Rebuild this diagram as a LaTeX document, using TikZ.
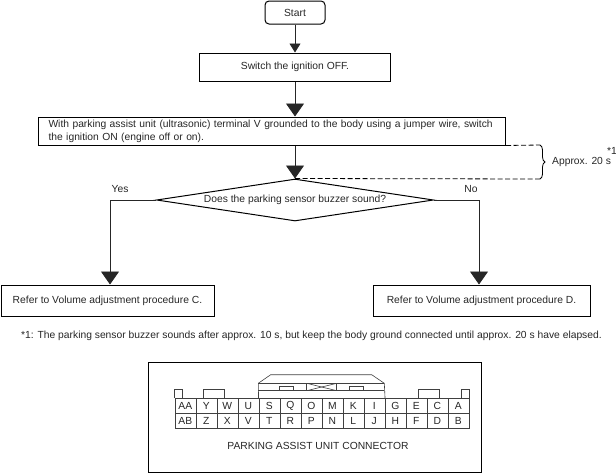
\documentclass[tikz,border=0pt]{standalone}
\usepackage{fontspec}
\setmainfont{Liberation Sans}
\usetikzlibrary{arrows.meta}
\usetikzlibrary{shapes.geometric}
\usetikzlibrary{decorations.pathreplacing}
\tikzstyle{txt}=[font=\fontsize{10.3}{12.8}\selectfont, text=black!85, inner sep=0]
\tikzstyle{stepbox}=[txt, rectangle, draw=black, line width=1pt]
\tikzstyle{flow}=[draw=black!85, line width=.85pt]
\tikzstyle{bighead}=[flow, -{Triangle[length=13pt, width=18pt]}]
\tikzstyle{smallhead}=[flow, -{Triangle[length=9pt, width=11pt]}]
\tikzstyle{pin}=[txt, rectangle, draw=black!75, line width=.5pt, minimum width=21pt, minimum height=15pt]
\tikzstyle{housing}=[draw=black!75, line width=.6pt]
\begin{document}
\begin{tikzpicture}[x=1pt, y=-1pt]
      \useasboundingbox (0,0) rectangle (616,474);

      \node[stepbox, rounded corners=4pt, minimum width=60pt, minimum height=23pt] (start) at (295,12.5) {Start};
      \node[stepbox, minimum width=191pt, minimum height=28pt] (ignoff) at (295,67) {Switch the ignition OFF.};
      \node[stepbox, minimum width=467pt, minimum height=28pt, text width=447pt, inner xsep=10pt, align=left] (ground) at (272,131)
          {With parking assist unit (ultrasonic) terminal V grounded to the body using a jumper wire, switch\\the ignition ON (engine off or on).};
      \node[txt, draw=black, line width=1pt, shape=diamond, aspect=6.6, minimum width=277pt, minimum height=42pt] (buzzer) at (295,200)
          {Does the parking sensor buzzer sound?};
      \node[stepbox, minimum width=213pt, minimum height=31pt] (procc) at (107.5,300.5) {Refer to Volume adjustment procedure C.};
      \node[stepbox, minimum width=217pt, minimum height=31pt] (procd) at (481.5,300.5) {Refer to Volume adjustment procedure D.};

      \draw[smallhead] (start) -- (ignoff);
      \draw[bighead] (ignoff) -- (ground.north -| ignoff);
      \draw[bighead] (ground.south -| buzzer) -- (buzzer);

      \coordinate (yesturn) at (110,200);
      \coordinate (noturn) at (479,200);
      \draw[bighead] (buzzer.west) -- (yesturn) -- (yesturn |- procc.north);
      \draw[bighead] (buzzer.east) -- (noturn) -- (noturn |- procd.north);
      \node[txt] (yes) at (120,189) {Yes};
      \node[txt] (no) at (471,189) {No};

      % time span beside the third step
      \coordinate (spantop) at (540,145);
      \coordinate (spanbot) at (540,179);
      \draw[line width=.8pt, dash pattern=on 5pt off 2.5pt] (ground.south east) -- (spantop);
      \draw[line width=.8pt, dash pattern=on 5pt off 2.5pt] (buzzer.north) -- (spanbot);
      \draw[line width=.8pt, decorate, decoration={brace, amplitude=5pt}] (spantop) -- (spanbot);
      \node[txt, anchor=west] (approx) at (552,161.5) {Approx. 20 s};
      \node[txt, anchor=west] (note) at (607,151) {*1};

      \node[txt, anchor=west] (footnote) at (21,336) {*1: The parking sensor buzzer sounds after approx. 10 s, but keep the body ground connected until approx. 20 s have elapsed.};

      \node[draw=black, line width=1pt, minimum width=333pt, minimum height=110pt, inner sep=0] (conbox) at (314.5,417) {};

      \foreach \pin [count = \x] in {AA,Y,W,U,S,Q,O,M,K,I,G,E,C,A}
        \node[pin] (up\x) at (164.3+21*\x,405.8) {\pin};
      \foreach \pin [count = \x] in {AB,Z,X,V,T,R,P,N,L,J,H,F,D,B}
        \node[pin] (lo\x) at (164.3+21*\x,420.8) {\pin};

      % tabs on the top row
      \draw[housing] (up1.north west) -- ++(0,-9) -- ++(7.3,0) -- ++(0,9);
      \draw[housing] (203.3,398.3) -- ++(0,-9) -- ++(21.4,0) -- ++(0,9);
      \draw[housing] (418.3,398.3) -- ++(0,-9) -- ++(21,0) -- ++(0,9);
      \draw[housing] (up14.north east) -- ++(0,-9) -- ++(-7.3,0) -- ++(0,9);

      % middle housing
      \draw[housing] (up5.north west) -- (258.3,383.3) -- (270.7,374.7) -- (371.7,374.7) -- (384.3,383.3) -- (up10.north east);
      \draw[housing] (258.3,383.3) -- (384.3,383.3);
      \draw[housing] (258.3,390.7) -- (384.3,390.7);
      \draw[housing] (279.3,390.7) -- ++(0,-4) -- ++(14,0) -- ++(0,4);
      \draw[housing] (349.3,390.7) -- ++(0,-4) -- ++(14,0) -- ++(0,4);
      \draw[housing] (306.7,383.3) rectangle (336.7,390.7);
      \draw[housing] (306.7,383.3) -- (336.7,390.7);
      \draw[housing] (306.7,390.7) -- (336.7,383.3);

      \node[txt] (conlabel) at (318,446) {PARKING ASSIST UNIT CONNECTOR};
\end{tikzpicture}
\end{document}
